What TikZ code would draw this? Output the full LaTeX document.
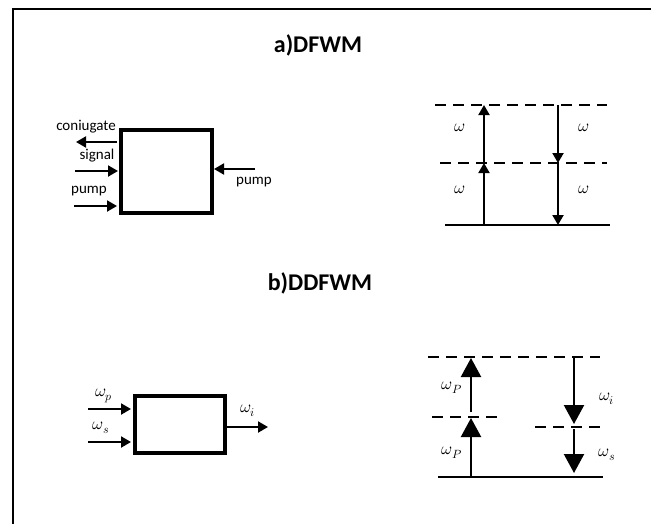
\documentclass[tikz,border=0pt]{standalone}
\usepackage{fontspec}
\usepackage{unicode-math}
\setmainfont{Carlito}
\setmathfont{Latin Modern Math}
\usetikzlibrary{arrows.meta}
\tikzset{
  frameline/.style={line width=2pt},
  chip/.style={draw=black, line width=3.2pt, inner sep=0pt},
  lbl/.style={font=\fontsize{15}{16}\selectfont, inner sep=0pt},
  ttl/.style={font=\bfseries\fontsize{24}{26}\selectfont, inner sep=0pt},
  omlbl/.style={font=\fontsize{17}{18}\selectfont, inner sep=0pt},
  arrow/.style={-{Triangle[length=10pt,width=11pt]}, line width=2pt},
  bigarrow/.style={-{Triangle[length=19pt,width=20pt]}, line width=2.2pt},
  level/.style={line width=2pt},
  virtual/.style={line width=1.8pt, dash pattern=on 11pt off 7pt}
}
\begin{document}
\begin{tikzpicture}[x=1pt,y=-1pt]
\useasboundingbox (0,0) rectangle (651,523);
\draw[frameline] (652,9) -- (13,9) -- (13,524);

% a) DFWM
\node[ttl] (titleA) at (318,45) {a)DFWM};
\node[chip, minimum width=91pt, minimum height=83pt] (mixA) at (166.5,171.5) {};
\coordinate (conjS) at (117,142);
\coordinate (conjE) at (76,142);
\coordinate (sigS) at (75,171);
\coordinate (sigE) at (118,171);
\coordinate (pumpS) at (74,206);
\coordinate (pumpE) at (117,206);
\coordinate (pumpRS) at (255,169);
\coordinate (pumpRE) at (214,169);
\draw[arrow] (conjS) -- (conjE);
\draw[arrow] (sigS) -- (sigE);
\draw[arrow] (pumpS) -- (pumpE);
\draw[arrow] (pumpRS) -- (pumpRE);
\node[lbl] (conjL) at (86,127) {coniugate};
\node[lbl] (sigL) at (97,156) {signal};
\node[lbl] (pumpL) at (89,191) {pump};
\node[lbl] (pumpRL) at (254,182) {pump};

% energy levels a
\draw[virtual] (435,105) -- (607,105);
\draw[virtual] (440,163) -- (607,163);
\draw[level] (445,225) -- (610,225);
\coordinate (upA0) at (484,225);
\coordinate (upA1) at (484,163);
\coordinate (upA2) at (484,105);
\coordinate (dnA0) at (558,105);
\coordinate (dnA1) at (558,163);
\coordinate (dnA2) at (558,225);
\draw[arrow] (upA0) -- (upA1);
\draw[arrow] (upA1) -- (upA2);
\draw[arrow] (dnA0) -- (dnA1);
\draw[arrow] (dnA1) -- (dnA2);
\node[omlbl] (omA1) at (460,128) {$\omega$};
\node[omlbl] (omA2) at (460,190) {$\omega$};
\node[omlbl] (omA3) at (584,128) {$\omega$};
\node[omlbl] (omA4) at (584,190) {$\omega$};

% b) DDFWM
\node[ttl] (titleB) at (320,283) {b)DDFWM};
\node[chip, minimum width=90pt, minimum height=57pt] (mixB) at (180,424.5) {};
\coordinate (wpS) at (88,409);
\coordinate (wpE) at (131,409);
\coordinate (wsS) at (88,442);
\coordinate (wsE) at (131,442);
\coordinate (wiS) at (226,427);
\coordinate (wiE) at (268,427);
\draw[arrow] (wpS) -- (wpE);
\draw[arrow] (wsS) -- (wsE);
\draw[arrow] (wiS) -- (wiE);
\node[omlbl] (wpL) at (104,396) {$\omega_p$};
\node[omlbl] (wsL) at (101,428) {$\omega_s$};
\node[omlbl] (wiL) at (248,411) {$\omega_i$};

% energy levels b
\draw[virtual] (428,357) -- (600,357);
\draw[virtual] (432,417) -- (503,417);
\draw[virtual] (535,427) -- (607,427);
\draw[level] (438,477) -- (603,477);
\coordinate (upB0) at (471,477);
\coordinate (upB1) at (471,418);
\coordinate (upB2) at (471,412);
\coordinate (upB3) at (471,358);
\coordinate (dnB0) at (574,357);
\coordinate (dnB1) at (574,424);
\coordinate (dnB2) at (574,429);
\coordinate (dnB3) at (574,473);
\draw[bigarrow] (upB0) -- (upB1);
\draw[bigarrow] (upB2) -- (upB3);
\draw[bigarrow] (dnB0) -- (dnB1);
\draw[bigarrow] (dnB2) -- (dnB3);
\node[omlbl] (omB1) at (452,388) {$\omega_P$};
\node[omlbl] (omB2) at (452,453) {$\omega_P$};
\node[omlbl] (omB3) at (607,399) {$\omega_i$};
\node[omlbl] (omB4) at (607,455) {$\omega_s$};
\end{tikzpicture}
\end{document}
